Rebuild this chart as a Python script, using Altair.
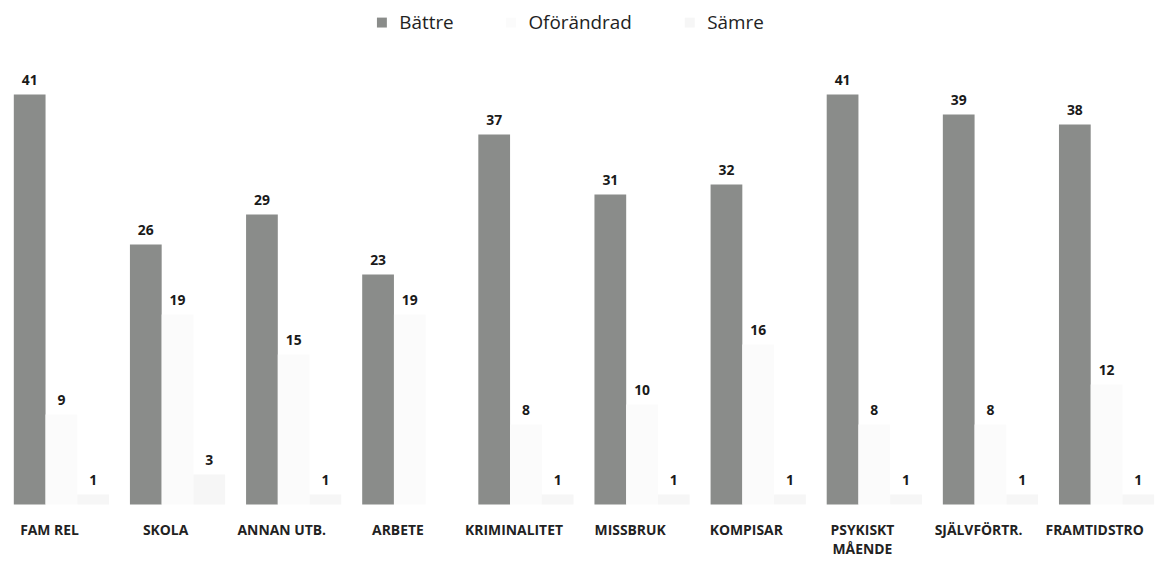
import altair as alt
import pandas as pd

categories = ["FAM REL", "SKOLA", "ANNAN UTB.", "ARBETE", "KRIMINALITET",
              "MISSBRUK", "KOMPISAR", "PSYKISKT MÅENDE", "SJÄLVFÖRTR.", "FRAMTIDSTRO"]
series = ["Bättre", "Oförändrad", "Sämre"]
battre = [41, 26, 29, 23, 37, 31, 32, 41, 39, 38]
oforandrad = [9, 19, 15, 19, 8, 10, 16, 8, 8, 12]
samre = [1, 3, 1, 0, 1, 1, 1, 1, 1, 1]
colors = ["#8a8c8a", "#fbfbfb", "#f6f6f6"]

rows = []
for i, c in enumerate(categories):
    for s, vals in zip(series, [battre, oforandrad, samre]):
        rows.append({"kategori": c, "serie": s, "varde": vals[i],
                     "etikett": str(vals[i]) if vals[i] > 0 else ""})
df = pd.DataFrame(rows)

FONT = "Open Sans"

x = alt.X("kategori:N", sort=categories, title=None,
          scale=alt.Scale(paddingInner=0.18, paddingOuter=0.05),
          axis=alt.Axis(domain=False, ticks=False, labelAngle=0, labelPadding=19,
                        labelFont=FONT, labelFontSize=14, labelFontWeight="bold",
                        labelColor="#222222", labelOffset=-12, labelLimit=200,
                        labelLineHeight=19,
                        labelExpr="datum.label == 'PSYKISKT MÅENDE' ? ['PSYKISKT', 'MÅENDE'] : datum.label"))
xo = alt.XOffset("serie:N", sort=series, scale=alt.Scale(paddingInner=0, paddingOuter=0))
y = alt.Y("varde:Q", scale=alt.Scale(domain=[0, 44], nice=False), axis=None, title=None)

bars = alt.Chart(df).mark_bar(strokeWidth=0).encode(
    x=x, xOffset=xo, y=y,
    color=alt.Color("serie:N", sort=series,
                    scale=alt.Scale(domain=series, range=colors),
                    legend=alt.Legend(title=None, orient="none", direction="horizontal",
                                      legendX=367, legendY=-52, symbolType="square",
                                      symbolSize=100, symbolStrokeWidth=0,
                                      labelFont=FONT, labelFontSize=19,
                                      labelColor="#222222", labelOffset=8,
                                      columnPadding=48)),
)

labels = alt.Chart(df).mark_text(baseline="bottom", dy=-7, font=FONT, fontSize=14,
                                 fontWeight="bold", color="#1a1a1a").encode(
    x=x, xOffset=xo, y=y, text="etikett:N"
)

chart = (bars + labels).properties(
    width=1160, height=443,
    autosize=alt.AutoSizeParams(type="none"),
    padding={"left": 0, "top": 55, "right": 0, "bottom": 54},
).configure_view(stroke=None)

chart.save("out.html", embed_options={"renderer": "svg", "actions": False})
